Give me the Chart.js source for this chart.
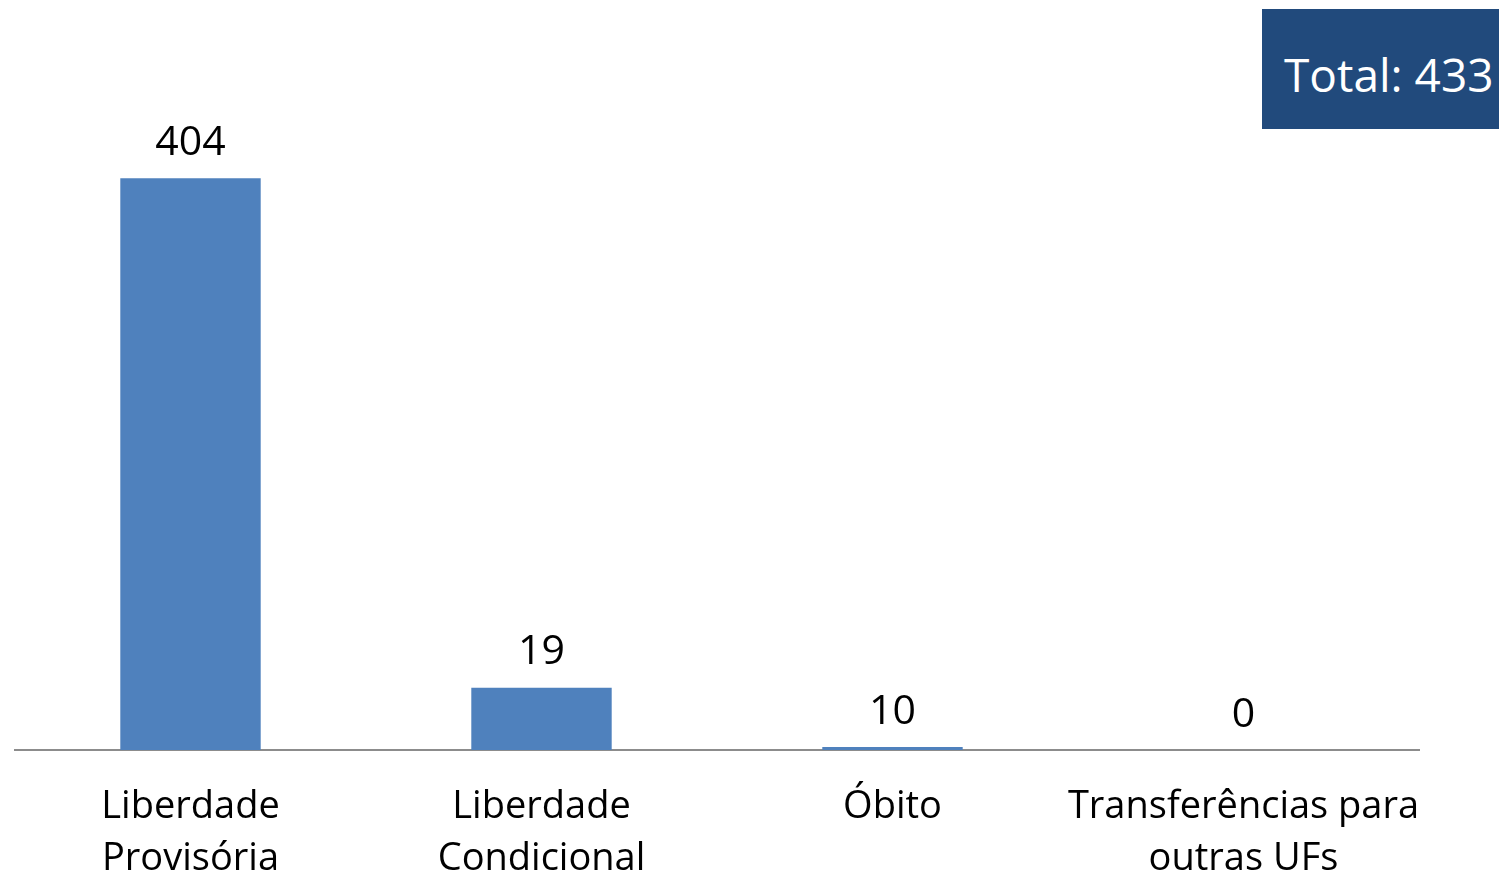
<!DOCTYPE html>
<html>
<head>
<meta charset="utf-8">
<script src="https://cdn.jsdelivr.net/npm/chart.js@4"></script>
<style>
  html, body { margin: 0; padding: 0; background: #ffffff; }
  #wrap { position: relative; width: 1499px; height: 875px; overflow: hidden; }
  #total { position: absolute; left: 1262px; top: 9px; width: 260px; height: 120px;
           background: #214a7c; color: #ffffff; font-family: "Open Sans", sans-serif;
           font-size: 46px; line-height: 130px; padding-left: 22px; box-sizing: border-box; white-space: nowrap; overflow: hidden; }
</style>
</head>
<body>
<div id="wrap">
  <canvas id="c" width="1499" height="875"></canvas>
  <div id="total">Total: 433</div>
</div>
<script>
// Categories (x-axis tick labels, multi-line)
const categories = [
  ["Liberdade", "Provisória"],
  ["Liberdade", "Condicional"],
  ["Óbito"],
  ["Transferências para", "outras UFs"]
];
// Values shown as labels above the bars
const labelValues = [404, 19, 10, 0];
// Bar heights as drawn in the reference (not proportional to labels)
const barValues = [404, 44, 2.1, 0];

const valueLabels = {
  id: 'valueLabels',
  afterDatasetsDraw(chart) {
    const ctx = chart.ctx;
    const meta = chart.getDatasetMeta(0);
    ctx.save();
    ctx.font = '41px "Open Sans", sans-serif';
    ctx.fillStyle = '#000000';
    ctx.textAlign = 'center';
    ctx.textBaseline = 'middle';
    meta.data.forEach((bar, i) => {
      ctx.fillText(String(labelValues[i]), bar.x, bar.y - 35);
    });
    ctx.restore();
  }
};

new Chart(document.getElementById('c'), {
  type: 'bar',
  data: {
    labels: categories,
    datasets: [{
      data: barValues,
      backgroundColor: '#4f81bd',
      borderWidth: 0,
      barPercentage: 0.4,
      categoryPercentage: 1.0
    }]
  },
  options: {
    responsive: false,
    animation: false,
    layout: { padding: { left: 15, right: 80, top: 0, bottom: 0 } },
    plugins: { legend: { display: false }, tooltip: { enabled: false } },
    scales: {
      x: {
        afterFit(scale) { scale.height = 125; },
        grid: { display: false, drawTicks: false },
        border: { display: true, color: '#8c8c8c', width: 2 },
        ticks: {
          color: '#000000',
          font: { family: '"Open Sans", sans-serif', size: 38, lineHeight: 1.37 },
          padding: 31,
          maxRotation: 0,
          autoSkip: false
        }
      },
      y: {
        display: false,
        min: 0,
        max: 530
      }
    }
  },
  plugins: [valueLabels]
});
</script>
</body>
</html>
